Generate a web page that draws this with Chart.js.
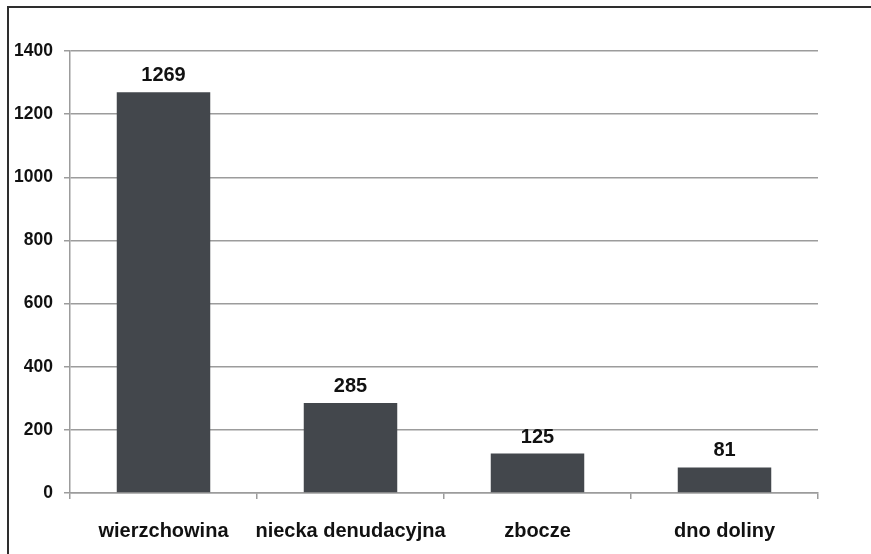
<!DOCTYPE html>
<html>
<head>
<meta charset="utf-8">
<script src="https://cdn.jsdelivr.net/npm/chart.js@4"></script>
<style>
    html, body { margin: 0; padding: 0; background: #fff; }
    .frame { position: relative; width: 871px; height: 554px; overflow: hidden; }
    .edge { position: absolute; left: 7px; top: 6px; right: 0; bottom: -4px;
            border-top: 2px solid #2e2e2e; border-left: 2px solid #2e2e2e; }
    canvas { position: absolute; left: 0; top: 0; }
</style>
</head>
<body>
<div class="frame">
    <canvas id="chart" width="871" height="554"></canvas>
    <div class="edge"></div>
</div>
<script>
    const categories = ["wierzchowina", "niecka denudacyjna", "zbocze", "dno doliny"];
    const counts = [1269, 285, 125, 81];
    const yTicks = [0, 200, 400, 600, 800, 1000, 1200, 1400];

    const barColor = "#43474c";
    const gridColor = "#9c9c9c";
    const fontFamily = "'Liberation Sans', Arial, sans-serif";

    // value labels above each bar
    const valueLabels = {
        id: "valueLabels",
        afterDatasetsDraw(chart) {
            const ctx = chart.ctx;
            const meta = chart.getDatasetMeta(0);
            ctx.save();
            ctx.font = `bold 20px ${fontFamily}`;
            ctx.fillStyle = "#111";
            ctx.textAlign = "center";
            ctx.textBaseline = "alphabetic";
            meta.data.forEach((bar, i) => {
                ctx.fillText(String(counts[i]), bar.x, bar.y - 11);
            });
            ctx.restore();
        }
    };

    new Chart(document.getElementById("chart"), {
        type: "bar",
        data: {
            labels: categories,
            datasets: [{
                data: counts,
                backgroundColor: barColor,
                borderWidth: 0,
                barPercentage: 0.5,
                categoryPercentage: 1
            }]
        },
        options: {
            responsive: false,
            animation: false,
            devicePixelRatio: 1,
            layout: { padding: { top: 51, right: 53, left: 0, bottom: 0 } },
            plugins: {
                legend: { display: false },
                tooltip: { enabled: false }
            },
            scales: {
                x: {
                    afterFit: (scale) => { scale.height = 61; },
                    border: { color: gridColor, width: 1.5 },
                    grid: { drawOnChartArea: false, tickLength: 6, color: gridColor, lineWidth: 1.5 },
                    ticks: {
                        padding: 20,
                        maxRotation: 0,
                        minRotation: 0,
                        autoSkip: false,
                        color: "#111",
                        font: { family: fontFamily, size: 20, weight: "bold" }
                    }
                },
                y: {
                    min: 0,
                    max: 1400,
                    afterFit: (scale) => { scale.width = 70; },
                    afterBuildTicks: (scale) => { scale.ticks = yTicks.map((v) => ({ value: v })); },
                    border: { color: gridColor, width: 1.5 },
                    grid: { color: gridColor, lineWidth: 1.5, tickLength: 6 },
                    ticks: {
                        padding: 11,
                        color: "#111",
                        callback: (value) => String(value),
                        font: { family: fontFamily, size: 17.5, weight: "bold" }
                    }
                }
            }
        },
        plugins: [valueLabels]
    });
</script>
</body>
</html>
